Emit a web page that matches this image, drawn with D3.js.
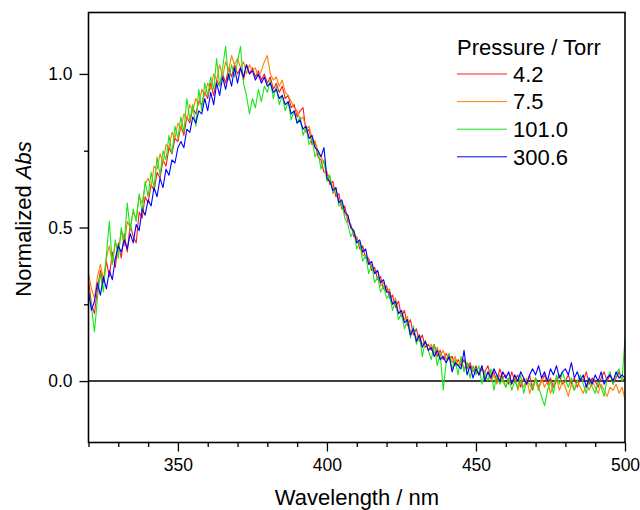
<!DOCTYPE html>
<html>
<head>
<meta charset="utf-8">
<script src="https://cdn.jsdelivr.net/npm/d3@7"></script>
<style>
  html, body { margin: 0; padding: 0; background: #fff; }
  svg text { font-family: "Liberation Sans", Arial, sans-serif; fill: #000; }
</style>
</head>
<body>
<svg id="chart" width="640" height="510"></svg>
<script>
// wavelength grid, 1 nm steps from 320 to 500 nm
const wavelengths = d3.range(320, 501, 1);

const pressures = ["4.2", "7.5", "101.0", "300.6"];
const colors = ["#ff1a1a", "#ff8000", "#19e619", "#0000ff"];

const abs4_2 = [
  0.33, 0.25, 0.22, 0.30, 0.36, 0.32, 0.39, 0.34, 0.42, 0.37,
  0.45, 0.40, 0.48, 0.42, 0.51, 0.47, 0.45, 0.55, 0.53, 0.60,
  0.58, 0.64, 0.62, 0.68, 0.66, 0.72, 0.70, 0.76, 0.74, 0.79,
  0.78, 0.83, 0.80, 0.86, 0.84, 0.89, 0.87, 0.91, 0.90, 0.94,
  0.92, 0.97, 0.93, 0.98, 0.96, 1.00, 0.97, 1.02, 0.99, 1.03,
  1.00, 1.02, 0.98, 1.03, 1.00, 1.02, 0.99, 1.01, 0.98, 1.00,
  0.97, 0.99, 0.95, 0.97, 0.94, 0.96, 0.92, 0.93, 0.89, 0.90,
  0.86, 0.88, 0.89, 0.81, 0.82, 0.77, 0.78, 0.73, 0.72, 0.68,
  0.68, 0.64, 0.65, 0.60, 0.61, 0.56, 0.57, 0.52, 0.51, 0.47,
  0.47, 0.43, 0.44, 0.40, 0.40, 0.36, 0.37, 0.33, 0.34, 0.30,
  0.31, 0.27, 0.28, 0.24, 0.26, 0.21, 0.23, 0.18, 0.20, 0.15,
  0.17, 0.13, 0.15, 0.11, 0.12, 0.10, 0.12, 0.08, 0.10, 0.07,
  0.09, 0.07, 0.08, 0.05, 0.07, 0.05, 0.07, 0.04, 0.06, 0.03,
  0.05, 0.02, 0.04, 0.03, 0.05, 0.01, 0.03, 0.00, 0.04, 0.01,
  0.02, -0.01, 0.03, 0.00, 0.02, -0.02, 0.01, -0.01, 0.02, -0.03,
  0.01, -0.02, 0.00, 0.02, -0.01, 0.01, -0.02, 0.00, 0.02, -0.01,
  0.00, 0.02, -0.01, 0.01, -0.02, 0.01, 0.00, 0.03, -0.01, 0.01,
  0.00, -0.02, 0.01, 0.03, 0.00, 0.02, -0.01, 0.01, 0.03, 0.00, 0.01
];

const abs7_5 = [
  0.35, 0.30, 0.27, 0.34, 0.38, 0.33, 0.40, 0.44, 0.38, 0.45,
  0.42, 0.49, 0.44, 0.52, 0.50, 0.55, 0.53, 0.60, 0.58, 0.64,
  0.66, 0.63, 0.70, 0.69, 0.74, 0.71, 0.77, 0.76, 0.81, 0.79,
  0.84, 0.82, 0.87, 0.85, 0.90, 0.88, 0.92, 0.90, 0.95, 0.93,
  0.97, 0.95, 1.00, 0.98, 1.03, 0.99, 1.04, 1.01, 1.06, 1.03,
  1.05, 1.02, 1.04, 1.00, 1.03, 1.01, 1.02, 0.99, 1.01, 1.04,
  1.06, 1.00, 0.98, 0.99, 0.96, 0.98, 0.94, 0.93, 0.91, 0.89,
  0.88, 0.85, 0.86, 0.82, 0.83, 0.79, 0.78, 0.75, 0.73, 0.71,
  0.68, 0.66, 0.63, 0.62, 0.59, 0.58, 0.54, 0.54, 0.50, 0.49,
  0.46, 0.45, 0.41, 0.41, 0.38, 0.38, 0.35, 0.36, 0.31, 0.32,
  0.29, 0.30, 0.25, 0.27, 0.22, 0.23, 0.20, 0.21, 0.16, 0.17,
  0.14, 0.15, 0.12, 0.13, 0.10, 0.12, 0.09, 0.11, 0.08, 0.10,
  0.07, 0.09, 0.06, 0.08, 0.05, 0.07, 0.04, 0.06, 0.05, 0.03,
  0.04, 0.02, 0.05, 0.01, 0.03, 0.00, 0.02, -0.01, 0.02, 0.00,
  -0.02, 0.01, -0.01, 0.02, -0.03, 0.00, -0.02, 0.01, -0.04, -0.01,
  0.00, -0.03, 0.01, -0.02, 0.00, -0.04, -0.01, 0.01, -0.03, 0.00,
  -0.02, -0.05, -0.01, -0.03, 0.00, -0.02, -0.04, -0.01, -0.03, 0.00,
  -0.02, -0.04, -0.01, -0.03, -0.05, -0.02, -0.03, -0.01, -0.04, -0.02, -0.06
];

const abs101_0 = [
  0.30, 0.24, 0.16, 0.27, 0.35, 0.29, 0.41, 0.52, 0.38, 0.46,
  0.40, 0.50, 0.45, 0.58, 0.49, 0.56, 0.52, 0.61, 0.55, 0.65,
  0.60, 0.68, 0.63, 0.73, 0.67, 0.75, 0.72, 0.80, 0.74, 0.83,
  0.79, 0.86, 0.81, 0.92, 0.85, 0.90, 0.83, 0.95, 0.88, 0.97,
  0.93, 0.99, 0.95, 1.05, 0.96, 1.02, 1.09, 0.98, 1.03, 0.99,
  1.04, 1.09, 0.97, 0.93, 0.87, 0.92, 0.89, 0.95, 0.91, 0.96,
  0.94, 0.98, 0.92, 0.96, 0.90, 0.93, 0.88, 0.91, 0.85, 0.88,
  0.84, 0.86, 0.80, 0.83, 0.77, 0.79, 0.73, 0.75, 0.69, 0.72,
  0.65, 0.67, 0.61, 0.63, 0.57, 0.58, 0.53, 0.51, 0.47, 0.49,
  0.43, 0.45, 0.39, 0.41, 0.35, 0.38, 0.32, 0.34, 0.29, 0.31,
  0.27, 0.28, 0.23, 0.26, 0.20, 0.22, 0.17, 0.20, 0.14, 0.18,
  0.12, 0.15, 0.08, 0.13, 0.10, 0.07, 0.12, 0.05, 0.09, -0.03,
  0.06, 0.09, 0.04, 0.07, 0.02, 0.08, 0.03, 0.06, 0.01, 0.05,
  0.02, 0.05, -0.01, 0.03, 0.00, 0.04, -0.03, 0.02, -0.01, 0.01,
  -0.02, 0.01, -0.03, 0.00, -0.02, 0.02, -0.04, 0.00, -0.01, -0.03,
  0.01, -0.02, -0.05, -0.08, -0.03, 0.00, -0.04, 0.02, -0.01, 0.03,
  0.00, -0.02, 0.01, -0.03, 0.00, 0.02, -0.01, -0.04, 0.01, -0.02,
  -0.04, 0.00, -0.02, -0.05, 0.01, 0.03, -0.01, 0.02, 0.04, 0.00, 0.14
];

const abs300_6 = [
  0.29, 0.23, 0.26, 0.32, 0.28, 0.34, 0.30, 0.36, 0.33, 0.40,
  0.44, 0.42, 0.46, 0.43, 0.48, 0.45, 0.51, 0.49, 0.56, 0.54,
  0.59, 0.57, 0.63, 0.60, 0.66, 0.63, 0.69, 0.67, 0.72, 0.71,
  0.76, 0.78, 0.76, 0.82, 0.81, 0.86, 0.84, 0.88, 0.87, 0.92,
  0.88, 0.94, 0.90, 0.97, 0.93, 0.99, 0.95, 1.00, 0.96, 1.02,
  0.97, 1.02, 0.99, 1.03, 1.00, 1.01, 0.98, 1.00, 0.97, 0.99,
  0.96, 0.97, 0.94, 0.95, 0.92, 0.93, 0.90, 0.91, 0.87, 0.88,
  0.84, 0.85, 0.82, 0.83, 0.79, 0.80, 0.76, 0.75, 0.73, 0.76,
  0.66, 0.65, 0.62, 0.63, 0.58, 0.59, 0.55, 0.54, 0.50, 0.49,
  0.45, 0.46, 0.42, 0.43, 0.38, 0.39, 0.35, 0.36, 0.32, 0.33,
  0.29, 0.29, 0.25, 0.26, 0.22, 0.23, 0.19, 0.20, 0.15, 0.17,
  0.13, 0.15, 0.11, 0.13, 0.10, 0.11, 0.08, 0.10, 0.07, 0.08,
  0.06, 0.08, 0.03, 0.06, 0.05, 0.04, 0.10, 0.02, 0.05, 0.01,
  0.04, 0.02, 0.05, 0.00, 0.03, 0.01, 0.04, 0.02, 0.00, 0.03,
  0.01, 0.03, -0.01, 0.02, 0.00, 0.03, 0.01, -0.01, 0.02, 0.04,
  0.02, 0.05, 0.01, 0.03, 0.00, 0.04, 0.02, 0.05, 0.01, 0.03,
  0.04, 0.02, 0.06, 0.01, 0.03, 0.00, 0.02, -0.02, 0.01, -0.01,
  0.02, 0.00, 0.03, -0.01, 0.01, 0.02, 0.00, 0.03, 0.01, 0.02, 0.01
];

const seriesValues = [abs4_2, abs7_5, abs101_0, abs300_6];

const xMajorTicks = [350, 400, 450, 500];
const xMinorTicks = [320, 330, 340, 360, 370, 380, 390, 410, 420, 430, 440, 460, 470, 480, 490];
const yMajorTicks = [0.0, 0.5, 1.0];
const yMinorTicks = [0.25, 0.75];

const svg = d3.select("#chart");
const margin = { top: 12.5, right: 15, bottom: 67.5, left: 88.5 };
const width = 640 - margin.left - margin.right;
const height = 510 - margin.top - margin.bottom;

const x = d3.scaleLinear().domain([320, 500]).range([0, width]);
const y = d3.scaleLinear().domain([-0.2, 1.2]).range([height, 0]);

const g = svg.append("g")
    .attr("transform", `translate(${margin.left},${margin.top})`);

// clip so the traces stay inside the frame
g.append("clipPath").attr("id", "plotclip")
  .append("rect").attr("width", width).attr("height", height);

// zero line
g.append("line")
    .attr("x1", 0).attr("x2", width)
    .attr("y1", y(0)).attr("y2", y(0))
    .attr("stroke", "#000").attr("stroke-width", 1.5);

const line = d3.line()
    .x((d, i) => x(wavelengths[i]))
    .y(d => y(d));

g.append("g").attr("clip-path", "url(#plotclip)")
  .selectAll("path")
  .data(seriesValues)
  .enter()
  .append("path")
    .attr("d", d => line(d))
    .attr("fill", "none")
    .attr("stroke", (d, i) => colors[i])
    .attr("stroke-width", 1.1)
    .attr("stroke-linejoin", "round");

// axes
function styleAxis(sel) {
  sel.select(".domain").remove();
  sel.selectAll(".tick line").attr("stroke", "#000").attr("stroke-width", 1.3);
  sel.selectAll(".tick text").style("font-size", "17.5px");
}

g.append("g")
    .attr("transform", `translate(0,${height})`)
    .call(d3.axisBottom(x).tickValues(xMajorTicks).tickFormat(d3.format("d"))
      .tickSize(9).tickPadding(7))
    .call(styleAxis);

g.append("g")
    .attr("transform", `translate(0,${height})`)
    .call(d3.axisBottom(x).tickValues(xMinorTicks).tickFormat("").tickSize(4.5))
    .call(styleAxis);

g.append("g")
    .call(d3.axisLeft(y).tickValues(yMajorTicks).tickFormat(d3.format(".1f"))
      .tickSize(9).tickPadding(7))
    .call(styleAxis);

g.append("g")
    .call(d3.axisLeft(y).tickValues(yMinorTicks).tickFormat("").tickSize(4.5))
    .call(styleAxis);

// frame
g.append("rect")
    .attr("width", width).attr("height", height)
    .attr("fill", "none").attr("stroke", "#000").attr("stroke-width", 1.6);

// axis titles
svg.append("text")
    .attr("x", 357).attr("y", 505)
    .attr("text-anchor", "middle")
    .style("font-size", "22px")
    .text("Wavelength / nm");

const yTitle = svg.append("text")
    .attr("transform", "translate(31,219) rotate(-90)")
    .attr("text-anchor", "middle")
    .style("font-size", "22px");
yTitle.append("tspan").text("Normalized ");
yTitle.append("tspan").style("font-style", "italic").text("Abs");

// legend
const legend = svg.append("g").attr("transform", "translate(457,0)");
legend.append("text")
    .attr("x", 0).attr("y", 55)
    .style("font-size", "22px")
    .text("Pressure / Torr");

const rows = legend.selectAll("g.row")
  .data(pressures)
  .enter()
  .append("g")
    .attr("class", "row")
    .attr("transform", (d, i) => `translate(0,${74 + i * 27.6})`);

rows.append("line")
    .attr("x1", 0).attr("x2", 50)
    .attr("stroke", (d, i) => colors[i])
    .attr("stroke-width", 1);

rows.append("text")
    .attr("x", 56).attr("y", 7.8)
    .style("font-size", "22px")
    .text(d => d);
</script>
</body>
</html>
